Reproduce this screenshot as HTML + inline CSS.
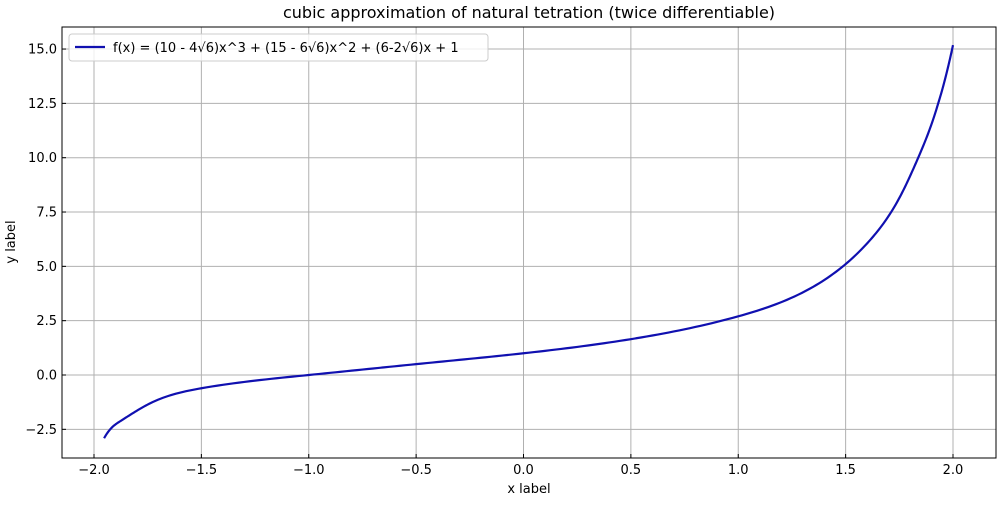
<!DOCTYPE html>
<html><head><meta charset="utf-8"><style>
body{margin:0;background:#fff;font-family:"Liberation Sans","DejaVu Sans",sans-serif}
svg text{font-family:"DejaVu Sans","Liberation Sans",sans-serif}
</style></head><body>
<svg id="chart" width="1000" height="500" xmlns="http://www.w3.org/2000/svg">
<rect width="1000" height="500" fill="#fff"/>
<text x="529" y="18" font-size="16" text-anchor="middle">cubic approximation of natural tetration (twice differentiable)</text>
<g id="grid"></g>
<g id="axes"></g>
<path id="series" fill="none" stroke="#1010b0" stroke-width="2.2" stroke-linejoin="round"/>
<rect x="62" y="27" width="934" height="431" fill="none" stroke="#000" stroke-width="1"/>
<g>
<rect x="69" y="34" width="419" height="27" rx="3" fill="#fff" fill-opacity="0.8" stroke="#ccc"/>
<line x1="75" y1="47" x2="105" y2="47" stroke="#1010b0" stroke-width="2.2"/>
<text x="113" y="52" font-size="13">f(x) = (10 - 4√6)x^3 + (15 - 6√6)x^2 + (6-2√6)x + 1</text>
</g>
<text x="529" y="493" font-size="13" text-anchor="middle">x label</text>
<text x="15" y="242" font-size="13" text-anchor="middle" transform="rotate(-90 15 242)">y label</text>
</svg>
<script>
const xs=[-1.953,-1.927,-1.88,-1.738,-1.5,-1.0,-0.5,0,0.5,1.0,1.349,1.614,1.753,1.838,1.931,2.0];
const ys=[-2.91,-2.53,-2.14,-1.30,-0.61,0,0.5,1.0,1.65,2.7,4.06,6.21,8.2,10.0,12.5,15.18];
const xTicks=[-2.0,-1.5,-1.0,-0.5,0.0,0.5,1.0,1.5,2.0];
const yTicks=[-2.5,0.0,2.5,5.0,7.5,10.0,12.5,15.0];
const X=v=>523.5+v*214.75, Y=v=>375-v*21.73;
const ns="http://www.w3.org/2000/svg";
const grid=document.getElementById('grid'), axes=document.getElementById('axes');
function mk(t,a,p){const e=document.createElementNS(ns,t);for(const k in a)e.setAttribute(k,a[k]);p.appendChild(e);return e;}
xTicks.forEach(v=>{
 const g=mk('line',{x1:X(v),x2:X(v),y1:27,y2:458,stroke:'#b0b0b0','stroke-width':1},grid);
 
 
 const t=mk('line',{x1:X(v),x2:X(v),y1:458,y2:454,stroke:'#000'},axes);
 
 
 const l=mk('text',{x:X(v),y:474,'font-size':13,'text-anchor':'middle'},axes);
 l.textContent=(v<0?'−':'')+Math.abs(v).toFixed(1);
 
 
});
yTicks.forEach(v=>{
 const g=mk('line',{x1:62,x2:996,y1:Y(v),y2:Y(v),stroke:'#b0b0b0','stroke-width':1},grid);
 
 
 const t=mk('line',{x1:62,x2:66,y1:Y(v),y2:Y(v),stroke:'#000'},axes);
 
 
 const l=mk('text',{x:57,y:Y(v)+4.5,'font-size':13,'text-anchor':'end'},axes);
 l.textContent=(v<0?'−':'')+Math.abs(v).toFixed(1);
 
 
});
// cubic spline through the read points
const n=xs.length, h=[], M=new Array(n).fill(0);
for(let i=0;i<n-1;i++) h.push(xs[i+1]-xs[i]);
const a=[],b=[],c=[],r=[];
for(let i=1;i<n-1;i++){
 a.push(h[i-1]); b.push(2*(h[i-1]+h[i])); c.push(h[i]);
 r.push(6*((ys[i+1]-ys[i])/h[i]-(ys[i]-ys[i-1])/h[i-1]));
}
const k=b.length;
for(let i=1;i<k;i++){const w=a[i]/b[i-1];b[i]-=w*c[i-1];r[i]-=w*r[i-1];}
const sol=new Array(k);
sol[k-1]=r[k-1]/b[k-1];
for(let i=k-2;i>=0;i--) sol[i]=(r[i]-c[i]*sol[i+1])/b[i];
for(let i=0;i<k;i++) M[i+1]=sol[i];
M[0]=M[1]; M[n-1]=M[n-2];
let d='';
for(let i=0;i<n-1;i++){
 for(let s=0;s<=20;s++){
  if(i>0&&s===0)continue;
  const x=xs[i]+h[i]*s/20, A=(xs[i+1]-x)/h[i], B=(x-xs[i])/h[i];
  const y=A*ys[i]+B*ys[i+1]+((A*A*A-A)*M[i]+(B*B*B-B)*M[i+1])*h[i]*h[i]/6;
  d+=(d?' L':'M')+X(x).toFixed(2)+','+Y(y).toFixed(2);
 }
}
document.getElementById('series').setAttribute('d',d);
</script>
</body></html>
